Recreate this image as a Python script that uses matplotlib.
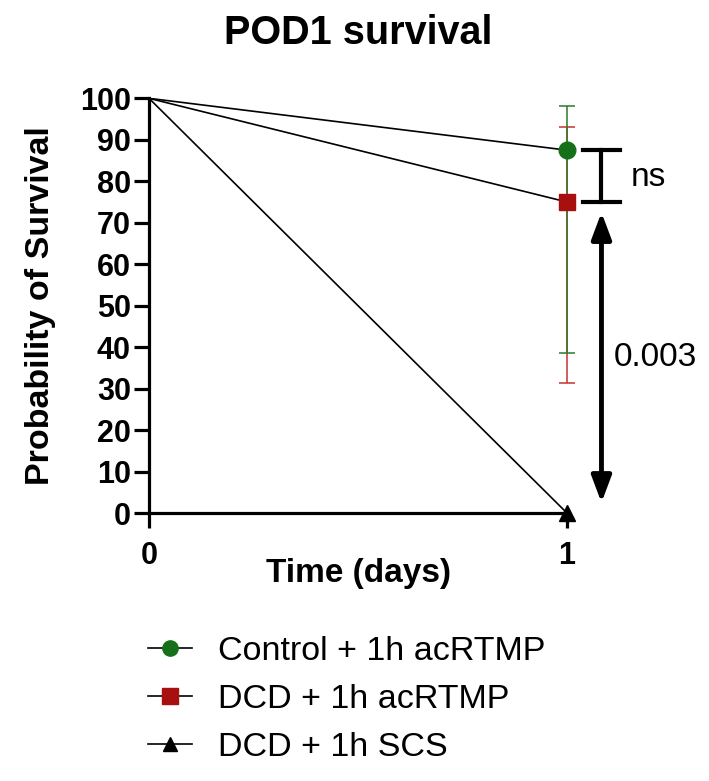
#!/usr/bin/env python3
"""POD1 survival - Kaplan-Meier style curves with CI bars at day 1."""

import matplotlib
matplotlib.use('Agg')
import matplotlib.pyplot as plt
from matplotlib.lines import Line2D

plt.rcParams['font.family'] = ['Liberation Sans', 'DejaVu Sans']

# ── Dados ───────────────────────────────────────────────────────────────────
TIME = [0, 1]
LABELS = ["Control + 1h acRTMP", "DCD + 1h acRTMP", "DCD + 1h SCS"]
SURV_CTRL = [100, 87.5]
SURV_DCD_ACR = [100, 75.0]
SURV_DCD_SCS = [100, 0.0]

# intervalos de confiança no dia 1 (inferior, superior)
CI_CTRL = (38.6, 98.1)
CI_DCD_ACR = (31.3, 93.1)

P_NS = "ns"
P_SCS = "0.003"

GREEN = "#16701a"
RED = "#a80f0f"
GREEN_BAR = "#2a7a2a"
RED_BAR = "#c43333"

fig = plt.figure(figsize=(7.09, 7.81), dpi=100)
ax = fig.add_axes([0.2102, 0.3431, 0.5895, 0.531])

# linhas (sem marcador no tempo 0)
ax.plot(TIME, SURV_DCD_SCS, color='black', lw=1.2, zorder=3)
ax.plot(TIME, SURV_DCD_ACR, color='black', lw=1.2, zorder=3)
ax.plot(TIME, SURV_CTRL, color='black', lw=1.2, zorder=3)

# barras de erro
for surv, ci, col, z in [(SURV_DCD_ACR, CI_DCD_ACR, RED_BAR, 4), (SURV_CTRL, CI_CTRL, GREEN_BAR, 5)]:
    y = surv[-1]
    ax.errorbar([TIME[-1]], [y], yerr=[[y - ci[0]], [ci[1] - y]], fmt='none',
                ecolor=col, elinewidth=1.1, capsize=6, capthick=1.1,
                zorder=z, clip_on=False)

ax.plot(TIME[-1], SURV_CTRL[-1], 'o', color=GREEN, ms=12, zorder=7, clip_on=False)
ax.plot(TIME[-1], SURV_DCD_ACR[-1], 's', color=RED, ms=12, zorder=6, clip_on=False)
ax.plot(TIME[-1], SURV_DCD_SCS[-1], '^', color='black', ms=11, zorder=6, clip_on=False)

ax.set_xlim(0, 1)
ax.set_ylim(0, 100)
ax.set_xticks([0, 1])
ax.set_yticks(range(0, 101, 10))
for s in ['top', 'right']:
    ax.spines[s].set_visible(False)
for s in ['left', 'bottom']:
    ax.spines[s].set_linewidth(2.3)
ax.tick_params(axis='both', width=2.3, length=11, labelsize=22)
ax.tick_params(axis='y', pad=2)
ax.tick_params(axis='x', pad=9)
for lbl in ax.get_xticklabels() + ax.get_yticklabels():
    lbl.set_fontweight('bold')

ax.set_xlabel('Time (days)', fontsize=24, fontweight='bold', labelpad=-9)
ax.set_ylabel('Probability of Survival', fontsize=24.5, fontweight='bold', labelpad=17)
ax.set_title('POD1 survival', fontsize=28.5, fontweight='bold', pad=39)

# colchete "ns"
bx0, bx1, bxm = 1.038, 1.127, 1.0825
ax.plot([bxm, bxm], [SURV_DCD_ACR[-1], SURV_CTRL[-1]], color='black', lw=3, clip_on=False)
ax.plot([bx0, bx1], [SURV_CTRL[-1], SURV_CTRL[-1]], color='black', lw=3, clip_on=False)
ax.plot([bx0, bx1], [SURV_DCD_ACR[-1], SURV_DCD_ACR[-1]], color='black', lw=3, clip_on=False)
ax.text(1.152, 81, P_NS, fontsize=24, ha='left', va='center')

# seta dupla p = 0.003
ax.annotate('', xy=(bxm, 2.5), xytext=(bxm, 72.5), xycoords='data',
            arrowprops=dict(arrowstyle='<|-|>,head_length=1.6,head_width=0.6',
                            color='black', lw=3.5, shrinkA=0, shrinkB=0),
            annotation_clip=False)
ax.text(1.113, 37.5, P_SCS, fontsize=24, ha='left', va='center')

# legenda
handles = [
    Line2D([], [], color='black', lw=1.2, marker='o', mfc=GREEN, mec=GREEN, ms=11),
    Line2D([], [], color='black', lw=1.2, marker='s', mfc=RED, mec=RED, ms=11),
    Line2D([], [], color='black', lw=1.2, marker='^', mfc='black', mec='black', ms=10),
]
fig.legend(handles, LABELS, loc='upper left', bbox_to_anchor=(0.2085, 0.186),
           frameon=False, fontsize=24.5, handlelength=1.3, handletextpad=0.75,
           labelspacing=0.5, borderpad=0, borderaxespad=0)

fig.savefig('out.png', dpi=100)
plt.close(fig)
